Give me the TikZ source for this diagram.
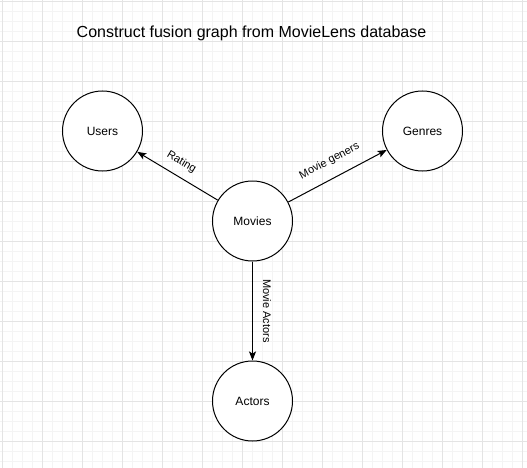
\documentclass[tikz,border=0pt]{standalone}
\usepackage{fontspec}
\setmainfont{Liberation Sans}
\usetikzlibrary{arrows.meta}
\definecolor{minorgrid}{RGB}{244,244,244}
\definecolor{majorgrid}{RGB}{228,228,228}
\begin{document}
\begin{tikzpicture}[x=1pt, y=-1pt, >={Stealth[length=9pt,width=7pt,inset=2pt]}, line width=1pt,
    entity/.style={draw, circle, fill=white, minimum size=80pt, inner sep=0pt, font=\fontsize{12}{14}\selectfont},
    relation/.style={font=\fontsize{11}{13}\selectfont, sloped, inner sep=0pt}]
        % Background grid
        \useasboundingbox (0,0) rectangle (527,468);
        \fill[white] (0,0) rectangle (527,468);
        \foreach \k in {0,...,52} \draw[minorgrid, line width=0.8pt] ({2.5+10*\k},0) -- ({2.5+10*\k},468);
        \foreach \k in {0,...,46} \draw[minorgrid, line width=0.8pt] (0,{1.5+10*\k}) -- (527,{1.5+10*\k});
        \foreach \k in {0,...,13} \draw[majorgrid, line width=0.8pt] ({2.5+40*\k},0) -- ({2.5+40*\k},468);
        \foreach \k in {0,...,11} \draw[majorgrid, line width=0.8pt] (0,{1.5+40*\k}) -- (527,{1.5+40*\k});

        % Title
        \node[font=\fontsize{16}{19}\selectfont] (title) at (251.5,33) {Construct fusion graph from MovieLens database};

        % Entities
        \node[entity] (users) at (102.5,131) {Users};
        \node[entity] (genres) at (422.5,131) {Genres};
        \node[entity] (movies) at (252.5,221) {Movies};
        \node[entity] (actors) at (252.5,401) {Actors};

        % Relations
        \draw[->] (movies) -- node[relation, pos=0.54, above=8.4pt] {Rating} (users);
        \draw[->] (movies) -- node[relation, pos=0.5, above=11.3pt] {Movie geners} (genres);
        \draw[->] (movies) -- node[relation, pos=0.5, above=10pt] {Movie Actors} (actors);
\end{tikzpicture}
\end{document}
